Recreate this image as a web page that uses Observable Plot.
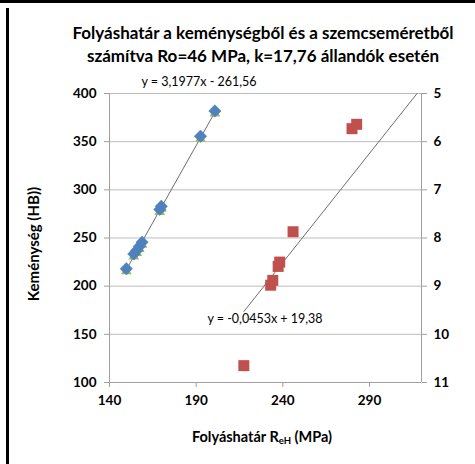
<!DOCTYPE html>
<html><head><meta charset="utf-8">
<script src="https://cdn.jsdelivr.net/npm/d3@7"></script>
<script src="https://cdn.jsdelivr.net/npm/@observablehq/plot@0.6"></script>
<style>
body{margin:0;background:#fff;}
#wrap{position:relative;width:475px;height:464px;overflow:hidden;font-family:Lato,"Open Sans",sans-serif;color:#000;}
.abs{position:absolute;white-space:nowrap;}
#wrap svg{position:absolute;left:0;top:0;}
</style></head><body><div id="wrap"></div>
<script>
// Data
const blueX = [149.7, 154.0, 155.7, 157.2, 158.8, 169.0, 169.9, 192.5, 200.8];
const blueHB = [218.1, 233.4, 237.1, 241.3, 245.7, 279.7, 282.9, 355.6, 381.9];
const greenHB = [215.6, 230.9, 234.6, 238.8, 243.2, 277.2, 280.4, 353.1, 379.4];
const redX = [217.5, 233.0, 234.2, 237.3, 238.2, 245.9, 279.9, 282.6];
const redGrain = [10.65, 8.98, 8.88, 8.59, 8.50, 7.87, 5.73, 5.64];
const blueTrend = [3.1977, -261.56];
const redTrend = [-0.0453, 19.38];
const xTicks = [140, 190, 240, 290];
const leftTicks = [100, 150, 200, 250, 300, 350, 400];
const rightTicks = [5, 6, 7, 8, 9, 10, 11];

// right axis (5..11, reversed) mapped onto left axis (400..100)
const toLeft = v => 400 - (v - 5) * 50;
const fromLeft = y => 5 + (400 - y) / 50;

const blue = blueX.map((x, i) => ({x, y: blueHB[i]}));
const green = blueX.map((x, i) => ({x, y: greenHB[i]}));
const red = redX.map((x, i) => ({x, y: toLeft(redGrain[i])}));

const bx0 = d3.min(blueX), bx1 = d3.max(blueX);
const blueLine = [bx0, bx1].map(x => ({x, y: blueTrend[0] * x + blueTrend[1]}));
const rx0 = d3.min(redX), rx1 = (5 - redTrend[1]) / redTrend[0];
const redLine = [rx0, rx1].map(x => ({x, y: toLeft(redTrend[0] * x + redTrend[1])}));

const axisCol = "#a0a0a0";
const chart = Plot.plot({
  width: 475, height: 464,
  marginLeft: 109, marginRight: 54, marginTop: 93, marginBottom: 82,
  style: {fontFamily: "Lato, 'Open Sans', sans-serif", fontSize: "13.5px", fontWeight: "bold", color: "#000", background: "transparent"},
  x: {domain: [140, 320]},
  y: {domain: [100, 400]},
  marks: [
    Plot.gridY(leftTicks, {stroke: "#bdbdbd", strokeOpacity: 1}),
    Plot.ruleX([140], {stroke: axisCol}),
    Plot.ruleX([320], {stroke: axisCol}),
    Plot.ruleY([100], {stroke: axisCol}),
    Plot.axisY({ticks: leftTicks, anchor: "left", tickSize: 5, tickPadding: 8, stroke: axisCol, label: null, fill: "#000", fontWeight: "bold"}),
    Plot.axisY({ticks: rightTicks.map(toLeft), anchor: "right", tickSize: 5, tickPadding: 7, tickFormat: d => String(fromLeft(d)), stroke: axisCol, label: null, fill: "#000", fontWeight: "bold"}),
    Plot.axisX({ticks: xTicks, tickSize: 5, tickPadding: 8, stroke: axisCol, label: null, fill: "#000", fontWeight: "bold"}),
    Plot.line(blueLine, {x: "x", y: "y", stroke: "#6e6e6e", strokeWidth: 1}),
    Plot.line(redLine, {x: "x", y: "y", stroke: "#6e6e6e", strokeWidth: 1}),
    Plot.dot(green, {x: "x", y: "y", symbol: "triangle", r: 4, fill: "#9bbb59", stroke: "none"}),
    Plot.dot(blue, {x: "x", y: "y", symbol: "diamond2", r: 5.6, fill: "#4f81bd", stroke: "#4f81bd", strokeWidth: 0.5}),
    Plot.dot(red, {x: "x", y: "y", symbol: "square", r: 6.2, fill: "#c0504d", stroke: "none"})
  ]
});
const wrap = document.getElementById("wrap");
wrap.appendChild(chart);

function addText(html, css) {
  const d = document.createElement("div");
  d.className = "abs";
  d.innerHTML = html;
  Object.assign(d.style, css);
  wrap.appendChild(d);
  return d;
}
// frame
addText("", {left: "0px", top: "0px", width: "475px", height: "3px", background: "#000"});
addText("", {left: "6px", top: "8px", width: "3px", height: "460px", background: "#000"});
// title
addText("Folyáshatár a keménységből és a szemcseméretből<br>számítva Ro=46 MPa, k=17,76 állandók esetén",
  {left: "0px", width: "526px", top: "21px", textAlign: "center", fontWeight: "bold", fontSize: "17px", lineHeight: "23px"});
// equations
addText("y = 3,1977x - 261,56", {left: "199px", top: "74px", transform: "translateX(-50%)", fontSize: "12.5px"});
addText("y = -0,0453x + 19,38", {left: "265px", top: "311px", transform: "translateX(-50%)", fontSize: "12.5px"});
// axis titles
addText("Folyáshatár R<sub style='font-size:9.5px;vertical-align:-2px'>eH</sub> (MPa)", {left: "262px", top: "428px", transform: "translateX(-50%)", fontWeight: "bold", fontSize: "14.5px"});
addText("Keménység (HB))", {left: "33px", top: "244px", transform: "translate(-50%,-50%) rotate(-90deg)", fontWeight: "bold", fontSize: "15px"});
</script>
</body></html>
